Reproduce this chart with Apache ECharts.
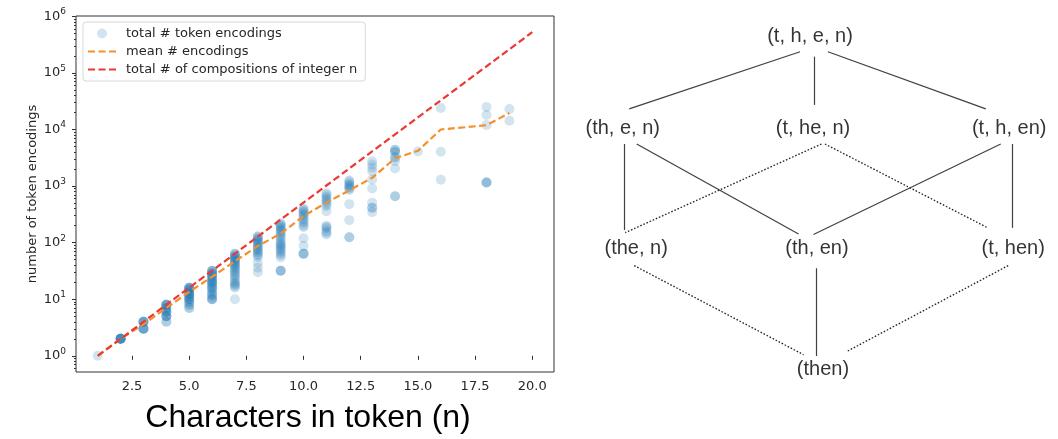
<!DOCTYPE html>
<html>
<head>
<meta charset="utf-8">
<script src="https://cdn.jsdelivr.net/npm/echarts@6/dist/echarts.min.js"></script>
<style>
  html, body { margin: 0; padding: 0; background: #fff; }
  #chart { width: 1058px; height: 439px; }
</style>
</head>
<body>
<div id="chart"></div>
<script>
// ---------- data: left scatter plot ----------
const tokenLengths = [1, 2, 3, 4, 5, 6, 7, 8, 9, 10, 11, 12, 13, 14, 15, 16, 18, 19];
const encodingsByLength = [
  [1],
  [2, 2, 2, 2, 2, 2, 2, 2],
  [4, 4, 4, 4, 4, 3, 3, 3, 3, 3],
  [8, 8, 8, 8, 8, 7, 7, 7, 6, 6, 6, 6, 5, 5, 5, 5, 4, 4],
  [16, 16, 16, 16, 15, 15, 14, 14, 13, 13, 12, 12, 12, 11, 11, 10, 10, 10, 9, 9, 8, 8, 7, 7],
  [32, 32, 32, 30, 29, 28, 27, 26, 25, 24, 23, 22, 21, 20, 20, 19, 18, 17, 16, 16, 15, 14, 13, 12, 12, 11, 10, 10, 10],
  [64, 64, 60, 58, 56, 54, 52, 50, 48, 46, 44, 42, 40, 38, 36, 34, 32, 30, 28, 26, 24, 22, 20, 19, 18, 17, 16, 10],
  [128, 128, 120, 115, 110, 105, 100, 95, 90, 85, 80, 76, 72, 68, 64, 60, 56, 44, 36, 30],
  [220, 210, 200, 190, 180, 170, 160, 150, 140, 130, 120, 110, 100, 95, 90, 85, 80, 75, 70, 65, 60, 55, 32, 32, 32],
  [400, 380, 360, 340, 320, 300, 280, 260, 240, 220, 200, 190, 120, 88, 64, 64, 64],
  [750, 700, 650, 600, 560, 520, 480, 440, 360, 200, 190, 180, 160, 150, 140],
  [1250, 1200, 1100, 1050, 1000, 950, 900, 850, 480, 250, 125, 125],
  [2750, 2400, 2100, 1830, 1310, 910, 510, 415, 415, 347],
  [4400, 4400, 4000, 4000, 3200, 3200, 2750, 2050, 660, 660],
  [4100],
  [24000, 4050, 1300],
  [25000, 18000, 12000, 1160, 1160, 1160],
  [23000, 14300]
];
const meanLengths = [1, 2, 3, 4, 5, 6, 7, 8, 9, 10, 11, 12, 13, 14, 15, 16, 18, 19];
const meanEncodings = [1, 2, 3.6, 7, 13.5, 25, 47, 87, 145, 295, 510, 840, 1400, 3100, 4200, 10000, 11900, 19500];
const compositionLengths = [1, 2, 3, 4, 5, 6, 7, 8, 9, 10, 11, 12, 13, 14, 15, 16, 17, 18, 19, 20];
const compositionCounts = [1, 2, 4, 8, 16, 32, 64, 128, 256, 512, 1024, 2048, 4096, 8192, 16384, 32768, 65536, 131072, 262144, 524288];
const xTickValues = [2.5, 5, 7.5, 10, 12.5, 15, 17.5, 20];
const yMajorExponents = [0, 1, 2, 3, 4, 5, 6];
const yMinorMultipliers = [2, 3, 4, 5, 6, 7, 8, 9];

// ---------- data: right lattice diagram ----------
const latticeNodes = [
  { name: '(t, h, e, n)', x: 50.2, y: 8.2 },
  { name: '(th, e, n)',   x: 12.6, y: 29.2 },
  { name: '(t, he, n)',   x: 50.8, y: 29.2 },
  { name: '(t, h, en)',   x: 90.2, y: 29.2 },
  { name: '(the, n)',     x: 15.3, y: 56.5 },
  { name: '(th, en)',     x: 51.6, y: 56.5 },
  { name: '(t, hen)',     x: 91.0, y: 56.5 },
  { name: '(then)',       x: 52.8, y: 84.1 }
];
// [from point, to point, style]
const latticeEdges = [
  [[48.2, 11.8], [13.9, 24.8], 'solid'],
  [[51.1, 12.9], [51.1, 23.9], 'solid'],
  [[53.8, 11.8], [85.5, 24.8], 'solid'],
  [[12.9, 32.8], [12.9, 52.4], 'solid'],
  [[15.4, 32.8], [47.9, 53.3], 'solid'],
  [[52.5, 32.8], [13.1, 53.0], 'dotted'],
  [[53.2, 32.8], [85.9, 51.9], 'dotted'],
  [[88.5, 32.8], [50.9, 53.4], 'solid'],
  [[90.9, 32.8], [90.9, 51.9], 'solid'],
  [[14.9, 60.5], [48.9, 80.8], 'dotted'],
  [[51.5, 61.1], [51.5, 81.1], 'solid'],
  [[90.0, 60.5], [57.7, 80.0], 'dotted']
];

// ---------- build ----------
const scatterData = [];
tokenLengths.forEach((n, i) => {
  encodingsByLength[i].forEach(v => scatterData.push([n, v]));
});
const meanData = meanLengths.map((n, i) => [n, meanEncodings[i]]);
const compData = compositionLengths.map((n, i) => [n, compositionCounts[i]]);

const yMin = 0.518, yMax = 1.014e6;
const logMin = Math.log10(yMin), logMax = Math.log10(yMax);
const minorTicks = [];
for (let k = -1; k <= 5; k++) {
  yMinorMultipliers.forEach(m => {
    const lv = k + Math.log10(m);
    if (lv > logMin && lv < logMax) minorTicks.push(lv);
  });
}

const FONT = 'DejaVu Sans';
const TXT = '#262626';
const ORANGE = '#f58f2c';
const RED = '#ec3832';

const chart = echarts.init(document.getElementById('chart'), null, { renderer: 'canvas' });
chart.setOption({
  animation: false,
  backgroundColor: '#fff',
  grid: [
    { left: 76, top: 16, width: 478, height: 357, show: true, borderColor: '#333', borderWidth: 1, backgroundColor: 'transparent' },
    { left: 560, top: 0, width: 498, height: 439, show: false }
  ],
  legend: {
    orient: 'vertical',
    left: 83, top: 22,
    itemWidth: 28, itemHeight: 10, itemGap: 5,
    padding: [5, 8, 5, 4],
    backgroundColor: '#fff',
    borderColor: '#d8d8d8', borderWidth: 1, borderRadius: 3,
    textStyle: { fontFamily: FONT, fontSize: 13, color: TXT, padding: [0, 0, 0, 5] },
    data: [
      { name: 'total # token encodings' },
      { name: 'mean # encodings', itemStyle: { opacity: 0 } },
      { name: 'total # of compositions of integer n', itemStyle: { opacity: 0 } }
    ]
  },
  xAxis: [
    {
      type: 'value', gridIndex: 0, min: 0.05, max: 20.95,
      axisLine: { show: false },
      splitLine: { show: false },
      axisTick: { show: true, length: 4, customValues: xTickValues, lineStyle: { color: '#333' } },
      axisLabel: {
        customValues: xTickValues, margin: 8,
        fontFamily: FONT, fontSize: 13, color: TXT,
        formatter: v => v.toFixed(1)
      },
      name: 'Characters in token (n)', nameLocation: 'middle', nameGap: 30,
      nameTextStyle: { fontFamily: 'Liberation Sans', fontSize: 32, color: '#000', padding: [0, 14, 0, 0] }
    },
    { type: 'value', gridIndex: 1, min: 0, max: 100, show: false }
  ],
  yAxis: [
    {
      type: 'log', logBase: 10, gridIndex: 0, min: yMin, max: yMax,
      axisLine: { show: false },
      splitLine: { show: false },
      axisTick: { show: false },
      axisLabel: {
        showMinLabel: false, showMaxLabel: false, margin: 10,
        fontFamily: FONT, fontSize: 13, color: TXT,
        formatter: v => '{b|10}{s|' + Math.round(Math.log10(v)) + '}',
        rich: {
          b: { fontFamily: FONT, fontSize: 13, color: TXT },
          s: { fontFamily: FONT, fontSize: 9, color: TXT, padding: [0, 0, 9, 0] }
        }
      },
      name: 'number of token encodings', nameLocation: 'middle', nameGap: 37,
      nameTextStyle: { fontFamily: FONT, fontSize: 13, color: TXT }
    },
    {
      type: 'value', gridIndex: 0, min: logMin, max: logMax, position: 'left',
      axisLine: { show: false }, splitLine: { show: false }, axisLabel: { show: false },
      axisTick: { show: true, length: 4, customValues: yMajorExponents, lineStyle: { color: '#333' } }
    },
    {
      type: 'value', gridIndex: 0, min: logMin, max: logMax, position: 'left',
      axisLine: { show: false }, splitLine: { show: false }, axisLabel: { show: false },
      axisTick: { show: true, length: 2, customValues: minorTicks, lineStyle: { color: '#333' } }
    },
    { type: 'value', gridIndex: 1, min: 0, max: 100, inverse: true, show: false }
  ],
  series: [
    {
      name: 'total # token encodings', type: 'scatter', xAxisIndex: 0, yAxisIndex: 0,
      symbol: 'circle', symbolSize: 10,
      itemStyle: { color: 'rgba(31,119,180,0.25)' },
      data: scatterData, silent: true, z: 2
    },
    {
      name: 'mean # encodings', type: 'line', xAxisIndex: 0, yAxisIndex: 0,
      symbol: 'none', color: ORANGE,
      lineStyle: { color: ORANGE, width: 2.2, type: [7, 3.5] },
      data: meanData, silent: true, z: 3
    },
    {
      name: 'total # of compositions of integer n', type: 'line', xAxisIndex: 0, yAxisIndex: 0,
      symbol: 'none', color: RED,
      lineStyle: { color: RED, width: 2.2, type: [7, 3.5] },
      data: compData, silent: true, z: 4
    },
    {
      type: 'lines', coordinateSystem: 'cartesian2d', xAxisIndex: 1, yAxisIndex: 3,
      silent: true,
      data: latticeEdges.map(e => ({
        coords: [e[0], e[1]],
        lineStyle: e[2] === 'solid'
          ? { color: '#404040', width: 1.2, type: 'solid', opacity: 1 }
          : { color: '#222', width: 1.3, type: [1.6, 1.8], opacity: 1 }
      }))
    },
    {
      type: 'scatter', xAxisIndex: 1, yAxisIndex: 3, silent: true,
      symbolSize: 1, itemStyle: { color: 'rgba(0,0,0,0)' },
      label: {
        show: true, position: 'inside', formatter: p => p.name,
        fontFamily: 'Liberation Sans', fontSize: 20, color: '#000'
      },
      data: latticeNodes.map(nd => ({ name: nd.name, value: [nd.x, nd.y] }))
    }
  ]
});
</script>
</body>
</html>
